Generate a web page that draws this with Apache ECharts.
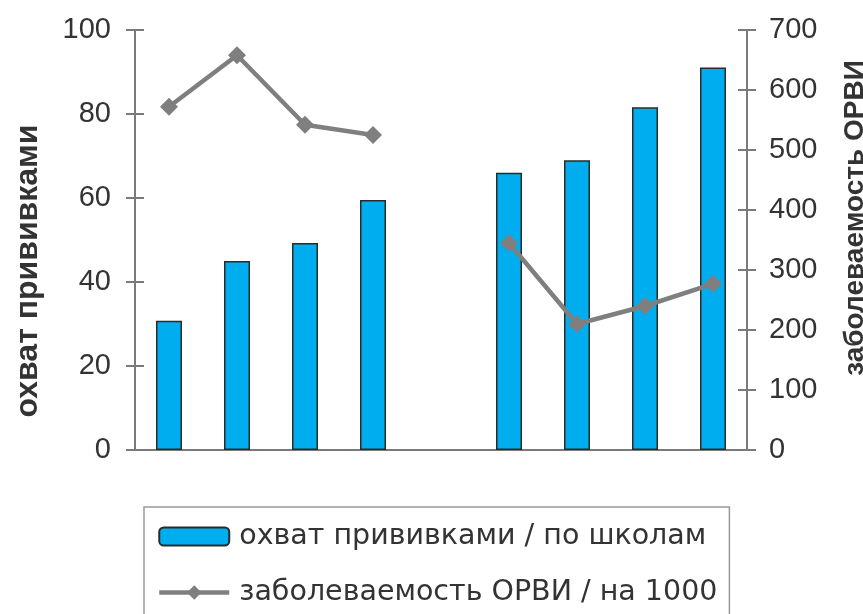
<!DOCTYPE html>
<html>
<head>
<meta charset="utf-8">
<script src="https://cdn.jsdelivr.net/npm/echarts@6/dist/echarts.min.js"></script>
<style>
html,body{margin:0;padding:0;background:#fff;}
#chart{width:863px;height:614px;}
</style>
</head>
<body>
<div id="chart"></div>
<script>
var categories = ['1', '2', '3', '4', '5', '6', '7', '8', '9'];
var coverage = [30.8, 45, 49.3, 59.5, null, 66, 69, 81.6, 91.1];
var morbidity = [572, 658, 542, 525, null, 345, 210, 240, 277];
var leftTicks = [0, 20, 40, 60, 80, 100];
var rightTicks = [0, 100, 200, 300, 400, 500, 600, 700];
var coverageName = 'охват прививками / по школам';
var morbidityName = 'заболеваемость ОРВИ / на 1000';
var leftTitle = 'охват прививками';
var rightTitle = 'заболеваемость ОРВИ';

var FONT = '"Liberation Sans", Arial, sans-serif';
var LEGFONT = '"DejaVu Sans", sans-serif';
var axisColor = '#7a7a7a';
var labelColor = '#333';

var chart = echarts.init(document.getElementById('chart'));

function yAx(pos, ticks, withLabels, inside, margin) {
  return {
    type: 'value',
    position: pos,
    min: ticks[0],
    max: ticks[ticks.length - 1],
    interval: ticks[1] - ticks[0],
    axisLine: { show: withLabels, lineStyle: { color: axisColor, width: 2 } },
    axisTick: { show: true, inside: inside, length: 9, lineStyle: { color: axisColor, width: 2 } },
    axisLabel: { show: withLabels, color: labelColor, fontSize: 29, fontFamily: FONT, margin: margin },
    splitLine: { show: false }
  };
}

chart.setOption({
  animation: false,
  backgroundColor: '#fff',
  textStyle: { fontFamily: FONT },
  grid: { left: 135, right: 116, top: 30, bottom: 164, containLabel: false },
  xAxis: [{
    type: 'category',
    data: categories,
    boundaryGap: true,
    axisLine: { lineStyle: { color: axisColor, width: 2 } },
    axisTick: { show: false },
    axisLabel: { show: false }
  }, {
    type: 'category',
    data: categories,
    position: 'top',
    axisLine: { lineStyle: { color: axisColor, width: 2 } },
    axisTick: { show: false },
    axisLabel: { show: false }
  }],
  yAxis: [
    yAx('left', leftTicks, true, false, 24),
    yAx('right', rightTicks, true, false, 22),
    yAx('left', leftTicks, false, true, 24),
    yAx('right', rightTicks, false, true, 22)
  ],
  legend: {
    orient: 'vertical',
    left: 144,
    top: 507,
    height: 200,
    padding: [15, 12, 30, 13],
    itemGap: 27,
    itemWidth: 70,
    itemHeight: 18,
    borderColor: '#9a9a9a',
    borderWidth: 1.5,
    textStyle: { color: labelColor, fontSize: 28.5, fontFamily: LEGFONT, padding: [0, 0, 0, 5] },
    data: [
      { name: coverageName },
      { name: morbidityName, lineStyle: { width: 4.5, color: '#7f7f7f' } }
    ]
  },
  graphic: [{
    type: 'text',
    x: 28, y: 271,
    rotation: Math.PI / 2,
    style: { text: leftTitle, fill: labelColor, font: 'bold 32px ' + FONT, align: 'center', verticalAlign: 'middle' }
  }, {
    type: 'text',
    x: 855, y: 218,
    rotation: Math.PI / 2,
    style: { text: rightTitle, fill: labelColor, font: 'bold 28px ' + FONT, align: 'center', verticalAlign: 'middle' }
  }],
  series: [{
    name: coverageName,
    type: 'bar',
    xAxisIndex: 0,
    yAxisIndex: 0,
    data: coverage,
    barWidth: 26,
    itemStyle: { color: '#00aeef', borderColor: '#2a2a2a', borderWidth: 1.5 }
  }, {
    name: morbidityName,
    type: 'line',
    xAxisIndex: 0,
    yAxisIndex: 1,
    data: morbidity,
    connectNulls: false,
    symbol: 'diamond',
    symbolSize: 18,
    itemStyle: { color: '#7f7f7f' },
    lineStyle: { color: '#7f7f7f', width: 4.5 }
  }]
});
</script>
</body>
</html>
